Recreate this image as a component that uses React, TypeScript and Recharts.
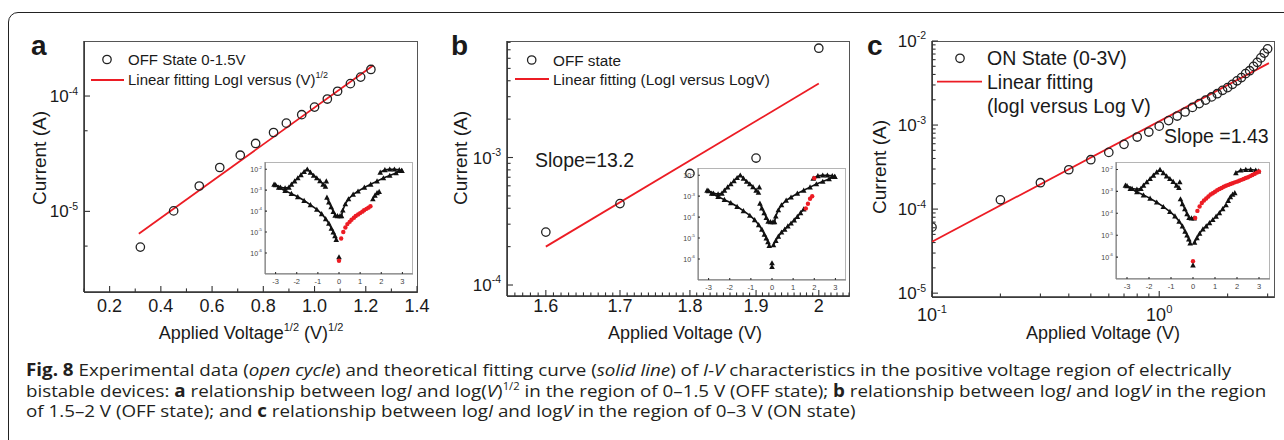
import { useLayoutEffect, useRef, useState } from 'react'
import type { ReactNode } from 'react'
import { ComposedChart, Scatter, XAxis, YAxis } from 'recharts'

const FONT = '"Liberation Sans", Arial, Helvetica, sans-serif'
const INK = '#1a1a1a'
const AXIS = '#333'
const RED = '#ec1c24'

// ---- panel a: OFF state 0-1.5 V, log I versus V^1/2
const aVoltageRoot = [0.32, 0.45, 0.55, 0.63, 0.71, 0.77, 0.84, 0.89, 0.95, 1.0, 1.05, 1.09, 1.14, 1.18, 1.22]
const aCurrent = [4.9e-6, 1.01e-5, 1.66e-5, 2.4e-5, 3.07e-5, 3.88e-5, 4.83e-5, 5.82e-5, 6.89e-5, 8.02e-5, 9.42e-5, 1.1e-4, 1.28e-4, 1.46e-4, 1.7e-4]
const aFitVoltageRoot = [0.314, 1.23]
const aFitCurrent = [6.4e-6, 1.85e-4]
const aXTicks = [0.2, 0.4, 0.6, 0.8, 1.0, 1.2, 1.4]
const aXTickLabels = ['0.2', '0.4', '0.6', '0.8', '1.0', '1.2', '1.4']
const aXMinorTicks = [0.1, 0.3, 0.5, 0.7, 0.9, 1.1, 1.3]
const aYTicks = [1e-5, 1e-4]
const aYTickExp = [-5, -4]
const aYMinorTicks = [5e-6, 5e-5]

// ---- panel b: OFF state 1.5-2 V, log I versus log V
const bVoltage = [1.6, 1.7, 1.8, 1.9, 2.0]
const bCurrent = [2.6e-4, 4.35e-4, 7.5e-4, 9.9e-4, 7.2e-3]
const bFitVoltage = [1.6, 2.0]
const bFitCurrent = [2.0e-4, 3.8e-3]
const bXTicks = [1.6, 1.7, 1.8, 1.9, 2.0]
const bXTickLabels = ['1.6', '1.7', '1.8', '1.9', '2']
const bYTicks = [1e-4, 1e-3]
const bYTickExp = [-4, -3]

// ---- panel c: ON state 0-3 V, log I versus log V
const cVoltage = [0.1, 0.2, 0.3, 0.4, 0.5, 0.6, 0.7, 0.8, 0.9, 1.0, 1.1, 1.2, 1.3, 1.4, 1.5, 1.6, 1.7, 1.8, 1.9, 2.0, 2.1, 2.2, 2.3, 2.4, 2.5, 2.6, 2.7, 2.8, 2.9, 3.0]
const cCurrent = [
  6.1e-5, 1.29e-4, 2.06e-4, 2.94e-4, 3.87e-4, 4.73e-4, 5.89e-4, 7.2e-4, 8.26e-4, 9.7e-4,
  1.13e-3, 1.28e-3, 1.43e-3, 1.62e-3, 1.8e-3, 1.98e-3, 2.16e-3, 2.36e-3, 2.59e-3, 2.79e-3,
  3.05e-3, 3.36e-3, 3.67e-3, 4.09e-3, 4.43e-3, 4.99e-3, 5.57e-3, 6.29e-3, 7.18e-3, 8.07e-3,
]
const cFitVoltage = [0.1, 3.04]
const cFitCurrent = [4.1e-5, 5.45e-3]
const cXTicks = [0.1, 1]
const cXTickExp = [-1, 0]
const cXMinorTicks = [0.2, 0.3, 0.4, 0.5, 0.6, 0.7, 0.8, 0.9, 2, 3]
const cYTicks = [1e-5, 1e-4, 1e-3, 1e-2]
const cYTickExp = [-5, -4, -3, -2]

// ---- inset: full I-V sweep (same curve in every panel)
const insetLowerLeftV = [-3.07, -2.85, -2.55, -2.25, -1.95, -1.65, -1.35, -1.05, -0.82, -0.63, -0.48, -0.36, -0.27, -0.19, -0.13]
const insetLowerLeftI = [1.9e-3, 1.35e-3, 9.5e-4, 6.8e-4, 4.8e-4, 3.2e-4, 2.0e-4, 1.2e-4, 7.4e-5, 4.3e-5, 2.6e-5, 1.5e-5, 1.0e-5, 6.6e-6, 4.4e-6]
const insetRoofV = [-3.0, -2.77, -2.55, -2.37, -2.25, -2.1, -1.95, -1.8, -1.65, -1.5, -1.35, -1.2, -1.05, -0.9, -0.75, -0.64]
const insetRoofI = [1.8e-3, 1.35e-3, 1.26e-3, 1.35e-3, 1.9e-3, 2.7e-3, 3.8e-3, 5.4e-3, 7.6e-3, 1.0e-2, 7.1e-3, 5.0e-3, 3.8e-3, 2.8e-3, 1.9e-3, 1.5e-3]
const insetInnerV = [-0.57, -0.48, -0.37, -0.27, -0.18, -0.07, 0.05]
const insetInnerI = [4.5e-4, 2.7e-4, 1.6e-4, 9.5e-5, 6.3e-5, 6.0e-5, 6.0e-5]
const insetOffLowV = [0.07, 0.18, 0.3, 0.45, 0.6, 0.75, 0.9, 1.05, 1.2, 1.35, 1.5]
const insetOffLowI = [4.7e-6, 7.6e-6, 1.2e-5, 1.9e-5, 2.6e-5, 3.7e-5, 5.1e-5, 7.2e-5, 1.05e-4, 1.6e-4, 2.4e-4]
const insetOffHighV = [1.6, 1.7, 1.8, 1.9]
const insetOffHighI = [3.8e-4, 5.6e-4, 7.4e-4, 8.6e-4]
const insetOnV = [0.12, 0.18, 0.3, 0.45, 0.67, 0.9, 1.2, 1.5, 1.8, 2.1, 2.4, 2.7, 2.97]
const insetOnI = [6.0e-5, 1.1e-4, 2.2e-4, 3.8e-4, 6.3e-4, 8.9e-4, 1.35e-3, 1.9e-3, 2.7e-3, 3.8e-3, 5.0e-3, 6.6e-3, 8.5e-3]
const insetOnTopV = [2.97, 2.85, 2.62, 2.4, 2.17, 1.95]
const insetOnTopI = [8.5e-3, 9.3e-3, 1.0e-2, 1.0e-2, 9.3e-3, 7.1e-3]
const insetStrayV = [-0.6]
const insetStrayI = [2.7e-3]
const insetZeroV = [0, 0]
const insetZeroI = [6.5e-7, 4.3e-7]
const insetXTicks = [-3, -2, -1, 0, 1, 2, 3]
const insetYTicks = [1e-6, 1e-5, 1e-4, 1e-3, 1e-2]
const insetYTickExp = [-6, -5, -4, -3, -2]

type Pt = { x: number; y: number }
const pairs = (xs: number[], ys: number[]): Pt[] => xs.map((x, i) => ({ x, y: ys[i] }))

const logMinor = (exps: number[]) => {
  const out: number[] = []
  exps.forEach((e) => {
    for (let m = 2; m <= 9; m++) out.push(Number((m * Math.pow(10, e)).toPrecision(3)))
  })
  return out
}
const bXMinorTicks: number[] = []
for (let k = 156; k <= 205; k++) if (k % 10 !== 0) bXMinorTicks.push(k / 100)
const bYMinorTicks = logMinor([-4, -3]).filter((v) => v < 8.2e-3)
const cYMinorTicks = logMinor([-6, -5, -4, -3]).filter((v) => v > 9e-6)

const pow10 = (exp: number, size: number) => [
  <tspan key="b">10</tspan>,
  <tspan key="e" dy={-size * 0.45} fontSize={size * 0.62}>
    {exp}
  </tspan>,
]

function bottomTick(major: number[], labels: ReactNode[], dy: number, size: number, len = 6, color = INK) {
  return (props: any) => {
    const { x, y, payload } = props
    const i = major.indexOf(payload.value)
    return (
      <g>
        <line x1={x} x2={x} y1={y} y2={y - (i >= 0 ? len : len * 0.6)} stroke={AXIS} strokeWidth={1.1} />
        {i >= 0 && (
          <text x={x} y={y + dy} textAnchor="middle" fontSize={size} fontFamily={FONT} fill={color}>
            {labels[i]}
          </text>
        )}
      </g>
    )
  }
}

function leftTick(major: number[], labels: ReactNode[], size: number, gap = 6, len = 6, color = INK) {
  return (props: any) => {
    const { x, y, payload } = props
    const i = major.indexOf(payload.value)
    return (
      <g>
        <line x1={x} x2={x + (i >= 0 ? len : len * 0.6)} y1={y} y2={y} stroke={AXIS} strokeWidth={1.1} />
        {i >= 0 && (
          <text x={x - gap} y={y + size * 0.36} textAnchor="end" fontSize={size} fontFamily={FONT} fill={color}>
            {labels[i]}
          </text>
        )}
      </g>
    )
  }
}

const OpenCircle = (p: any) => <circle cx={p.cx} cy={p.cy} r={4.2} fill="none" stroke="#222" strokeWidth={1.3} />
const NoMark = () => <g />
const Triangle = (p: any) => {
  const s = 2.8
  return <polygon points={`${p.cx},${p.cy - s} ${p.cx - s},${p.cy + s * 0.85} ${p.cx + s},${p.cy + s * 0.85}`} fill="#111" />
}
const RedDot = (p: any) => <circle cx={p.cx} cy={p.cy} r={2.2} fill={RED} />

type Box = { left: number; top: number; width: number; height: number }

const Y_W = 60
const X_H = 50
const M_T = 20
const M_R = 14

function MainPanel(props: {
  plot: Box
  xScale: 'linear' | 'log'
  xDomain: [number, number]
  yDomain: [number, number]
  xTicks: number[]
  xMinor: number[]
  xLabels: ReactNode[]
  xLabelDy: number
  yTicks: number[]
  yMinor: number[]
  yLabels: ReactNode[]
  points: Pt[]
  fit: Pt[]
}) {
  const { plot } = props
  return (
    <div style={{ position: 'absolute', left: plot.left - Y_W, top: plot.top - M_T }}>
      <div
        style={{
          position: 'absolute',
          left: Y_W - 0.5,
          top: M_T - 0.5,
          width: plot.width + 1,
          height: plot.height + 1,
          border: '1.5px solid #555',
          boxSizing: 'border-box',
        }}
      />
      <ComposedChart
        width={Y_W + plot.width + M_R}
        height={M_T + plot.height + X_H}
        margin={{ top: M_T, right: M_R, bottom: 0, left: 0 }}
      >
        <XAxis
          type="number"
          dataKey="x"
          scale={props.xScale}
          domain={props.xDomain}
          allowDataOverflow
          ticks={[...props.xTicks, ...props.xMinor]}
          interval={0}
          tickLine={false}
          tickSize={0}
          tickMargin={0}
          height={X_H}
          axisLine={{ stroke: AXIS, strokeWidth: 1.5 }}
          tick={bottomTick(props.xTicks, props.xLabels, props.xLabelDy, 18)}
        />
        <YAxis
          type="number"
          dataKey="y"
          scale="log"
          domain={props.yDomain}
          allowDataOverflow
          ticks={[...props.yTicks, ...props.yMinor]}
          interval={0}
          tickLine={false}
          tickSize={0}
          tickMargin={0}
          width={Y_W}
          axisLine={{ stroke: AXIS, strokeWidth: 1.5 }}
          tick={leftTick(props.yTicks, props.yLabels, 17)}
        />
        <Scatter data={props.fit} line={{ stroke: RED, strokeWidth: 1.8 }} shape={NoMark} isAnimationActive={false} />
        <Scatter data={props.points} shape={OpenCircle} isAnimationActive={false} />
      </ComposedChart>
    </div>
  )
}

const IN_YW = 24
const IN_XH = 16
const IN_MT = 6
const IN_MR = 4

function Inset(props: { box: Box; red: Pt[]; hidden: string[]; zeroFills: string[] }) {
  const { box } = props
  const branches = [
    { key: 'lowerLeft', pts: pairs(insetLowerLeftV, insetLowerLeftI) },
    { key: 'roof', pts: pairs(insetRoofV, insetRoofI) },
    { key: 'inner', pts: pairs(insetInnerV, insetInnerI) },
    { key: 'offLow', pts: pairs(insetOffLowV, insetOffLowI) },
    { key: 'offHigh', pts: pairs(insetOffHighV, insetOffHighI) },
    { key: 'on', pts: pairs(insetOnV, insetOnI) },
    { key: 'onTop', pts: pairs(insetOnTopV, insetOnTopI) },
  ].filter((b) => !props.hidden.includes(b.key))
  const zero = pairs(insetZeroV, insetZeroI)
  return (
    <div style={{ position: 'absolute', left: box.left - IN_YW, top: box.top - IN_MT }}>
      <div
        style={{
          position: 'absolute',
          left: IN_YW,
          top: IN_MT,
          width: box.width,
          height: box.height,
          background: '#fff',
          border: '1px solid #b5b5b5',
          boxSizing: 'border-box',
        }}
      />
      <ComposedChart
        width={IN_YW + box.width + IN_MR}
        height={IN_MT + box.height + IN_XH}
        margin={{ top: IN_MT, right: IN_MR, bottom: 0, left: 0 }}
      >
        <XAxis
          type="number"
          dataKey="x"
          domain={[-3.5, 3.5]}
          allowDataOverflow
          ticks={insetXTicks}
          interval={0}
          tickLine={false}
          tickSize={0}
          tickMargin={0}
          height={IN_XH}
          axisLine={{ stroke: '#777' }}
          tick={bottomTick(insetXTicks, insetXTicks.map(String), 10, 7.5, 2, '#444')}
        />
        <YAxis
          type="number"
          dataKey="y"
          scale="log"
          domain={[1e-7, 2.2e-2]}
          allowDataOverflow
          ticks={insetYTicks}
          interval={0}
          tickLine={false}
          tickSize={0}
          tickMargin={0}
          width={IN_YW}
          axisLine={{ stroke: '#777' }}
          tick={leftTick(insetYTicks, insetYTickExp.map((e) => pow10(e, 7)), 7, 3, 2, '#444')}
        />
        {branches.map((b) => (
          <Scatter
            key={b.key}
            data={b.pts}
            line={{ stroke: '#111', strokeWidth: 1.6 }}
            shape={Triangle}
            isAnimationActive={false}
          />
        ))}
        <Scatter data={pairs(insetStrayV, insetStrayI)} shape={Triangle} isAnimationActive={false} />
        <Scatter data={props.red} shape={RedDot} isAnimationActive={false} />
        {zero.map((p, i) => (
          <Scatter key={i} data={[p]} shape={props.zeroFills[i] === RED ? RedDot : Triangle} isAnimationActive={false} />
        ))}
      </ComposedChart>
    </div>
  )
}

// caption: one common horizontal squeeze, taken from the second (full) line
const captionLine2Width = 1240
const captionTops = [361, 381.5, 401.5]

function Caption() {
  const refs = useRef<(HTMLSpanElement | null)[]>([])
  const [scale, setScale] = useState(1)
  useLayoutEffect(() => {
    const el = refs.current[1]
    if (el && el.offsetWidth) setScale(captionLine2Width / el.offsetWidth)
  }, [])
  const sup = (s: string) => <sup style={{ fontSize: '0.6em', lineHeight: 0 }}>{s}</sup>
  const lines: ReactNode[] = [
    <>
      <b>Fig. 8</b> Experimental data (<i>open cycle</i>) and theoretical fitting curve (<i>solid line</i>) of <i>I-V</i>{' '}
      characteristics in the positive voltage region of electrically
    </>,
    <>
      bistable devices: <b>a</b> relationship between log<i>I</i> and log(<i>V</i>){sup('1/2')} in the region of 0–1.5 V
      (OFF state); <b>b</b> relationship between log<i>I</i> and log<i>V</i> in the region
    </>,
    <>
      of 1.5–2 V (OFF state); and <b>c</b> relationship between log<i>I</i> and log<i>V</i> in the region of 0–3 V (ON
      state)
    </>,
  ]
  return (
    <>
      {lines.map((content, i) => (
        <span
          key={i}
          ref={(el) => {
            refs.current[i] = el
          }}
          style={{
            position: 'absolute',
            left: 26,
            top: captionTops[i],
            whiteSpace: 'nowrap',
            lineHeight: '18px',
            fontSize: 17,
            fontFamily: '"Open Sans", "Liberation Sans", sans-serif',
            color: '#231f20',
            transform: `scaleX(${scale})`,
            transformOrigin: '0 0',
          }}
        >
          {content}
        </span>
      ))}
    </>
  )
}

export default function App() {
  return (
    <div
      style={{
        position: 'absolute',
        left: 0,
        top: 0,
        width: 1284,
        height: 440,
        background: '#fff',
        overflow: 'hidden',
        fontFamily: FONT,
      }}
    >
      <div
        style={{
          position: 'absolute',
          left: 8,
          top: 12,
          width: 1320,
          height: 470,
          border: '1.5px solid #222',
          borderRadius: 10,
        }}
      />

      <MainPanel
        plot={{ left: 84, top: 41, width: 333, height: 251 }}
        xScale="linear"
        xDomain={[0.1, 1.4]}
        yDomain={[2e-6, 3e-4]}
        xTicks={aXTicks}
        xMinor={aXMinorTicks}
        xLabels={aXTickLabels}
        xLabelDy={20}
        yTicks={aYTicks}
        yMinor={aYMinorTicks}
        yLabels={aYTickExp.map((e) => pow10(e, 17))}
        points={pairs(aVoltageRoot, aCurrent)}
        fit={pairs(aFitVoltageRoot, aFitCurrent)}
      />
      <MainPanel
        plot={{ left: 507, top: 41, width: 342, height: 255 }}
        xScale="log"
        xDomain={[1.55, 2.05]}
        yDomain={[8.2e-5, 8.2e-3]}
        xTicks={bXTicks}
        xMinor={bXMinorTicks}
        xLabels={bXTickLabels}
        xLabelDy={16}
        yTicks={bYTicks}
        yMinor={bYMinorTicks}
        yLabels={bYTickExp.map((e) => pow10(e, 17))}
        points={pairs(bVoltage, bCurrent)}
        fit={pairs(bFitVoltage, bFitCurrent)}
      />
      <MainPanel
        plot={{ left: 932, top: 41, width: 342, height: 256 }}
        xScale="log"
        xDomain={[0.1, 3.2]}
        yDomain={[9e-6, 1e-2]}
        xTicks={cXTicks}
        xMinor={cXMinorTicks}
        xLabels={cXTickExp.map((e) => pow10(e, 18))}
        xLabelDy={24}
        yTicks={cYTicks}
        yMinor={cYMinorTicks}
        yLabels={cYTickExp.map((e) => pow10(e, 17))}
        points={pairs(cVoltage, cCurrent)}
        fit={pairs(cFitVoltage, cFitCurrent)}
      />

      <Inset
        box={{ left: 265, top: 162, width: 148, height: 112 }}
        red={pairs(aVoltageRoot.map((r) => r * r), aCurrent)}
        hidden={['offLow']}
        zeroFills={['#111', RED]}
      />
      <Inset
        box={{ left: 698, top: 168, width: 148, height: 112 }}
        red={pairs(bVoltage, bCurrent)}
        hidden={['offHigh']}
        zeroFills={['#111', '#111']}
      />
      <Inset
        box={{ left: 1116, top: 162, width: 154, height: 117 }}
        red={pairs(cVoltage, cCurrent)}
        hidden={['on']}
        zeroFills={[RED, '#111']}
      />

      <svg
        width={1284}
        height={440}
        style={{ position: 'absolute', left: 0, top: 0, pointerEvents: 'none' }}
        fontFamily={FONT}
        fill={INK}
      >
        <text x={31} y={55} fontSize={28} fontWeight="bold">a</text>
        <text x={451} y={55} fontSize={28} fontWeight="bold">b</text>
        <text x={867} y={55} fontSize={28} fontWeight="bold">c</text>

        {/* legend a */}
        <circle cx={107} cy={59.5} r={4.2} fill="none" stroke="#222" strokeWidth={1.3} />
        <text x={128} y={65} fontSize={15}>OFF State 0-1.5V</text>
        <line x1={91} x2={124} y1={80} y2={80} stroke={RED} strokeWidth={1.8} />
        <text x={128} y={85} fontSize={15}>
          Linear fitting LogI versus (V)<tspan dy={-7} fontSize={9}>1/2</tspan>
        </text>

        {/* legend b */}
        <circle cx={531.7} cy={60} r={4.2} fill="none" stroke="#222" strokeWidth={1.3} />
        <text x={553} y={65.5} fontSize={15.3}>OFF state</text>
        <line x1={515} x2={549} y1={79} y2={79} stroke={RED} strokeWidth={1.8} />
        <text x={553} y={84.5} fontSize={15.3}>Linear fitting (LogI versus LogV)</text>
        <text x={535} y={167} fontSize={19.5}>Slope=13.2</text>

        {/* legend c */}
        <circle cx={960} cy={58.3} r={4.2} fill="none" stroke="#222" strokeWidth={1.3} />
        <text x={987} y={65} fontSize={19.5}>ON State (0-3V)</text>
        <line x1={937} x2={982} y1={81.7} y2={81.7} stroke={RED} strokeWidth={1.8} />
        <text x={987} y={89.3} fontSize={19.5}>Linear fitting</text>
        <text x={987} y={113} fontSize={19.5}>(logI versus Log V)</text>
        <text x={1164} y={143.3} fontSize={19.5}>Slope =1.43</text>

        {/* axis titles */}
        <text x={251} y={339} fontSize={18} textAnchor="middle">
          Applied Voltage<tspan dy={-8} fontSize={11}>1/2</tspan>
          <tspan dy={8}> (V)</tspan>
          <tspan dy={-8} fontSize={11}>1/2</tspan>
        </text>
        <text x={685} y={339} fontSize={18} textAnchor="middle">Applied Voltage (V)</text>
        <text x={1103} y={339} fontSize={18} textAnchor="middle">Applied Voltage (V)</text>
        <text x={46} y={158} fontSize={19} textAnchor="middle" transform="rotate(-90 46 158)">Current (A)</text>
        <text x={467} y={158} fontSize={19} textAnchor="middle" transform="rotate(-90 467 158)">Current (A)</text>
        <text x={886} y={167} fontSize={19} textAnchor="middle" transform="rotate(-90 886 167)">Current (A)</text>
      </svg>

      <Caption />
    </div>
  )
}
